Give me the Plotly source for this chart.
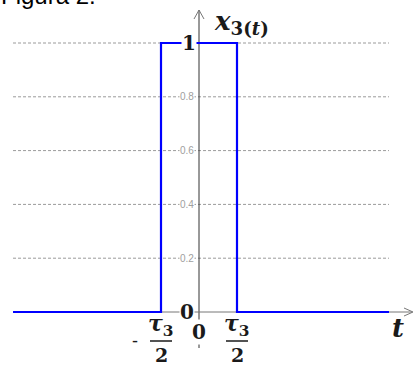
import plotly.graph_objects as go

# ---- data ----
tau3 = 1.0
t_start, t_end = -2.447, 2.5
signal_t = [t_start, -tau3 / 2, -tau3 / 2, tau3 / 2, tau3 / 2, t_end]
signal_x = [0, 0, 1, 1, 0, 0]
grid_levels = [0.2, 0.4, 0.6, 0.8, 1.0]
tick_labels = ["0.2", "0.4", "0.6", "0.8"]

W, H = 417, 367
X0PX, Y0PX, SX, SY = 199, 312, 76.0, 269.0


def px2x(p):
    return (p - X0PX) / SX


def py2y(p):
    return (Y0PX - p) / SY


fig = go.Figure()

# gridlines
for g in grid_levels:
    fig.add_trace(go.Scatter(x=[t_start, t_end], y=[g, g], mode="lines",
                             line=dict(color="#9a9a9a", width=1, dash="3px,2px"),
                             hoverinfo="skip", showlegend=False))

# y axis with arrow
ax_col = "#333333"
fig.add_trace(go.Scatter(x=[0, 0], y=[py2y(348), py2y(10)], mode="lines",
                         line=dict(color=ax_col, width=1), hoverinfo="skip", showlegend=False))
fig.add_trace(go.Scatter(x=[px2x(194), 0, px2x(204)], y=[py2y(19), py2y(10), py2y(19)],
                         mode="lines", line=dict(color="#777777", width=1),
                         hoverinfo="skip", showlegend=False))
# x axis with arrow
fig.add_trace(go.Scatter(x=[t_start, px2x(412)], y=[0, 0], mode="lines",
                         line=dict(color="#777777", width=1), hoverinfo="skip", showlegend=False))
fig.add_trace(go.Scatter(x=[px2x(404), px2x(413), px2x(404)], y=[py2y(308), py2y(312), py2y(316)],
                         mode="lines", line=dict(color="#777777", width=1),
                         hoverinfo="skip", showlegend=False))

# signal
fig.add_trace(go.Scatter(x=signal_t, y=signal_x, mode="lines",
                         line=dict(color="#0000ff", width=2.2), hoverinfo="skip", showlegend=False))

# fraction bars
for cx in [-tau3 / 2, tau3 / 2]:
    fig.add_trace(go.Scatter(x=[cx - px2x(X0PX + 11), cx + px2x(X0PX + 11)],
                             y=[py2y(341), py2y(341)], mode="lines",
                             line=dict(color="#1a1a1a", width=1.5),
                             hoverinfo="skip", showlegend=False))

serif = "DejaVu Serif"
ann = []
for g, lab in zip(grid_levels, tick_labels):
    ann.append(dict(x=px2x(187), y=g, xref="x", yref="y", text=lab, showarrow=False,
                    font=dict(family="Arial", size=10, color="#a0a0a0"),
                    bgcolor="white", borderpad=0))
ann.append(dict(x=px2x(189), y=1, xref="x", yref="y", text="<b>1</b>", showarrow=False,
                font=dict(family=serif, size=20, color="#1a1a1a"), bgcolor="white", borderpad=0))
ann.append(dict(x=px2x(187), y=0, xref="x", yref="y", text="<b>0</b>", showarrow=False,
                font=dict(family=serif, size=20, color="#1a1a1a"), bgcolor="white", borderpad=0))
ann.append(dict(x=0, y=py2y(332), xref="x", yref="y", text="<b>0</b>", showarrow=False,
                font=dict(family=serif, size=20, color="#1a1a1a"), bgcolor="white", borderpad=0))
for cx in [-tau3 / 2, tau3 / 2]:
    ann.append(dict(x=cx, y=py2y(325), xref="x", yref="y",
                    text="<b><i>τ</i><sub>3</sub></b>", showarrow=False,
                    font=dict(family=serif, size=22, color="#1a1a1a")))
    ann.append(dict(x=cx, y=py2y(355), xref="x", yref="y", text="<b>2</b>", showarrow=False,
                    font=dict(family=serif, size=19, color="#1a1a1a")))
ann.append(dict(x=px2x(135), y=py2y(341), xref="x", yref="y", text="-", showarrow=False,
                font=dict(family="Arial", size=18, color="#1a1a1a")))
ann.append(dict(x=px2x(212), y=py2y(22), xref="x", yref="y", xanchor="left",
                text="<b><i>x</i></b><sub><b>3(<i>t</i>)</b></sub>", showarrow=False,
                font=dict(family=serif, size=26, color="#1a1a1a")))
ann.append(dict(x=px2x(398), y=py2y(328), xref="x", yref="y",
                text="<b><i>t</i></b>", showarrow=False,
                font=dict(family=serif, size=26, color="#1a1a1a")))
ann.append(dict(x=0, y=1, xref="paper", yref="paper", xanchor="left", yanchor="bottom",
                xshift=-1, yshift=-11, text="Figura 2.", showarrow=False,
                font=dict(family="Arial", size=24, color="#000000")))

fig.update_layout(
    width=W, height=H, margin=dict(l=0, r=0, t=0, b=0),
    paper_bgcolor="white", plot_bgcolor="white",
    xaxis=dict(range=[px2x(0), px2x(W)], visible=False, fixedrange=True),
    yaxis=dict(range=[py2y(H), py2y(0)], visible=False, fixedrange=True),
    annotations=ann, showlegend=False,
)

fig.write_html("out.html", config={"displayModeBar": False},
               post_script="document.body.style.margin='0';document.body.style.overflow='hidden';")
